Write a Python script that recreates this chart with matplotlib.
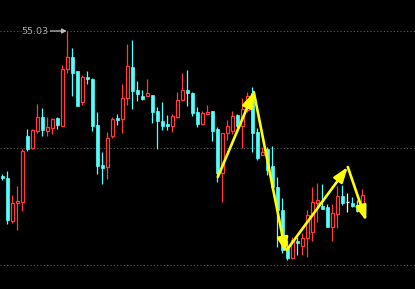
import matplotlib
matplotlib.use("Agg")
import matplotlib.pyplot as plt
import numpy as np

# daily OHLC (73 sessions)
opens = [53.58, 53.56, 53.13, 53.31, 53.32, 53.98, 53.86, 54.03, 54.17, 54.03,
         54.06, 54.16, 54.08, 54.65, 54.77, 54.63, 54.32, 54.57, 54.55, 54.09,
         53.69, 53.67, 53.98, 54.16, 54.15, 54.36, 54.67, 54.44, 54.38, 54.38,
         54.39, 54.23, 54.13, 54.10, 54.08, 54.17, 54.34, 54.44, 54.41, 54.22,
         54.10, 54.20, 54.23, 54.05, 53.61, 54.01, 54.03, 54.19, 54.08, 54.24,
         54.41, 54.02, 53.79, 53.85, 53.68, 53.47, 53.24, 52.86, 52.76, 52.93,
         52.88, 52.96, 53.02, 53.31, 53.28, 53.27, 53.07, 53.20, 53.38, 53.32,
         53.31, 53.29, 53.28]
closes = [53.56, 53.14, 53.31, 53.33, 53.83, 53.85, 54.04, 54.17, 54.04, 54.07,
          54.15, 54.09, 54.65, 54.77, 54.61, 54.28, 54.57, 54.55, 54.08, 53.68,
          53.66, 53.96, 54.15, 54.14, 54.36, 54.68, 54.43, 54.40, 54.35, 54.41,
          54.22, 54.13, 54.08, 54.08, 54.18, 54.34, 54.44, 54.41, 54.21, 54.10,
          54.21, 54.22, 54.03, 53.61, 54.01, 54.08, 54.18, 54.08, 54.25, 54.38,
          54.01, 53.76, 53.82, 53.64, 53.47, 53.24, 52.84, 52.76, 52.94, 52.91,
          52.96, 53.19, 53.32, 53.34, 53.25, 53.07, 53.21, 53.38, 53.31, 53.32,
          53.28, 53.23, 53.39]
highs = [53.60, 53.63, 53.39, 53.48, 53.85, 54.05, 54.05, 54.30, 54.26, 54.17,
         54.16, 54.17, 54.69, 55.03, 54.86, 54.63, 54.59, 54.63, 54.56, 54.22,
         53.82, 54.02, 54.17, 54.20, 54.50, 54.90, 54.94, 54.53, 54.44, 54.55,
         54.39, 54.27, 54.32, 54.19, 54.20, 54.42, 54.61, 54.64, 54.42, 54.27,
         54.23, 54.29, 54.23, 54.07, 54.01, 54.14, 54.23, 54.20, 54.36, 54.42,
         54.47, 54.06, 53.87, 53.87, 53.88, 53.57, 53.36, 52.94, 52.97, 52.97,
         53.01, 53.24, 53.47, 53.51, 53.50, 53.30, 53.30, 53.48, 53.49, 53.41,
         53.37, 53.34, 53.45]
lows = [53.54, 53.10, 53.11, 53.04, 53.23, 53.83, 53.85, 54.01, 53.98, 53.98,
        54.00, 54.05, 54.08, 54.61, 54.38, 54.28, 54.29, 54.50, 54.03, 53.60,
        53.50, 53.55, 53.96, 54.09, 54.01, 54.29, 54.25, 54.33, 54.34, 54.38,
        54.11, 53.85, 54.04, 54.04, 54.02, 54.16, 54.34, 54.28, 54.18, 54.07,
        54.09, 54.20, 53.93, 53.52, 53.32, 53.94, 54.00, 54.06, 53.86, 54.22,
        53.82, 53.74, 53.79, 53.59, 53.44, 52.87, 52.81, 52.74, 52.75, 52.79,
        52.79, 52.77, 52.93, 53.12, 53.25, 53.07, 52.93, 53.06, 53.29, 53.22,
        53.27, 53.22, 53.22]

grid_levels = [55.03, 53.86, 52.69]
peak_label = "55.03"
peak_idx = 13

# hand-drawn trend arrows: (start index, start price, end index, end price)
trend_arrows = [
    (43.1, 53.57, 50.3, 54.42),
    (50.3, 54.42, 56.7, 52.81),
    (56.9, 52.84, 69.1, 53.67),
    (69.1, 53.67, 72.8, 53.13),
]

UP = "#ff3b3b"
DOWN = "#54ffff"
FLAT = "#ffffff"

fig = plt.figure(figsize=(4.15, 2.89), dpi=100, facecolor="black")
ax = fig.add_axes([0, 0, 1, 1])
ax.set_facecolor("black")

for lvl in grid_levels:
    ax.axhline(lvl, color="#5e5e5e", lw=0.8, ls=(0, (1, 2)), zorder=0)

x = np.arange(len(opens))
w = 0.66
for i in x:
    o, c, h, l = opens[i], closes[i], highs[i], lows[i]
    if c > o:
        col = UP
    elif c < o:
        col = DOWN
    else:
        col = FLAT
    ax.vlines(i, l, h, color=col, lw=0.9, zorder=1)
    if col == FLAT:
        ax.hlines(o, i - w / 2, i + w / 2, color=col, lw=0.9, zorder=2)
    elif col == UP:
        ax.bar(i, c - o, w, bottom=o, facecolor="black", edgecolor=col, lw=0.9, zorder=2)
    else:
        ax.bar(i, o - c, w, bottom=c, facecolor=col, edgecolor=col, lw=0.5, zorder=2)

# peak marker
ax.annotate("", xy=(peak_idx - 0.1, highs[peak_idx]), xytext=(9.6, highs[peak_idx]),
            arrowprops=dict(arrowstyle="-|>", color="#bdbdbd", lw=0.9, mutation_scale=7,
                            shrinkA=0, shrinkB=0), zorder=4)
ax.text(9.3, highs[peak_idx], peak_label, color="#a8a8a8", fontsize=6.8,
        ha="right", va="center", zorder=4)

for x0, y0, x1, y1 in trend_arrows:
    ax.annotate("", xy=(x1, y1), xytext=(x0, y0),
                arrowprops=dict(arrowstyle="-|>,head_length=0.9,head_width=0.32",
                                color="#ffff00", lw=1.9, mutation_scale=10,
                                shrinkA=0, shrinkB=0), zorder=5)

ax.set_xlim(-0.46, 82.54)
ax.set_ylim(52.45, 55.34)
ax.axis("off")

fig.savefig("out.png", dpi=100, facecolor="black")
